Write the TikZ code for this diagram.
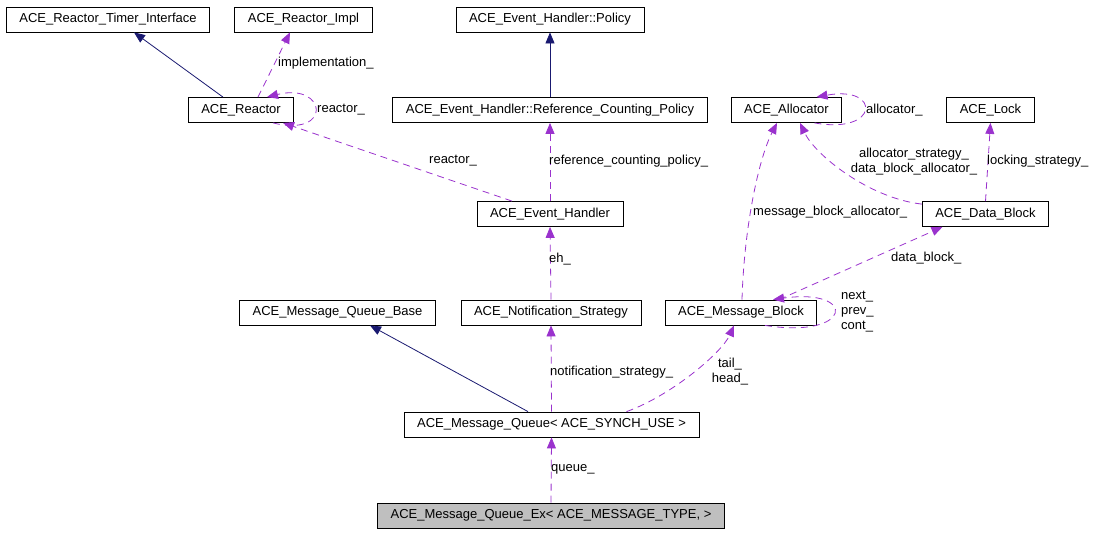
\documentclass[tikz,border=0pt]{standalone}
\usepackage{fontspec}
\setmainfont{Liberation Sans}
\usetikzlibrary{calc}
\usetikzlibrary{arrows.meta}
\definecolor{inhblue}{HTML}{191970}
\definecolor{usepurple}{HTML}{9A32CD}
\definecolor{boxgray}{HTML}{BFBFBF}

\begin{document}
\begin{tikzpicture}[x=1pt,y=-1pt,
	cls/.style={draw,line width=0.8pt,inner xsep=13pt,inner ysep=0pt,minimum height=25pt,font=\fontsize{13}{15}\selectfont},
	inh/.style={draw=inhblue,line width=0.8pt,-{Triangle[length=11pt,width=9pt]}},
	dep/.style={draw=usepurple,line width=0.8pt,dash pattern=on 7pt off 5pt,-{Triangle[length=11pt,width=9pt]}},
	lbl/.style={font=\fontsize{13}{15}\selectfont,inner sep=0pt}]
	\useasboundingbox (0,0) rectangle (1100,533);
	\node[cls] (timer) at (108,19.5) {ACE\_Reactor\_Timer\_Interface};
	\node[cls] (impl) at (303.5,19.5) {ACE\_Reactor\_Impl};
	\node[cls] (policy) at (550,19.5) {ACE\_Event\_Handler::Policy};
	\node[cls] (reactor) at (241,110) {ACE\_Reactor};
	\node[cls] (refpol) at (550,110) {ACE\_Event\_Handler::Reference\_Counting\_Policy};
	\node[cls] (alloc) at (786.5,110) {ACE\_Allocator};
	\node[cls] (lock) at (990.5,110) {ACE\_Lock};
	\node[cls] (evh) at (550,214) {ACE\_Event\_Handler};
	\node[cls] (datablk) at (985.5,214) {ACE\_Data\_Block};
	\node[cls] (mqbase) at (337.5,312.5) {ACE\_Message\_Queue\_Base};
	\node[cls] (notif) at (551,312.5) {ACE\_Notification\_Strategy};
	\node[cls] (msgblk) at (741,312.5) {ACE\_Message\_Block};
	\node[cls] (mq) at (551.5,424.5) {ACE\_Message\_Queue< ACE\_SYNCH\_USE >};
	\node[cls,fill=boxgray] (mqex) at (551,515.5) {ACE\_Message\_Queue\_Ex< ACE\_MESSAGE\_TYPE, >};
	\draw[inh] ($(reactor.north)+(-18,0)$) -- ($(timer.south)+(26,0)$);
	\draw[dep] ($(reactor.north)+(17,0)$) -- ($(impl.south)+(-13.5,0)$);
	\draw[dep] ($(reactor.south)+(32,0)$) .. controls +(60,15) and +(60,-15) .. ($(reactor.north)+(26,0)$);
	\draw[dep] ($(evh.north)+(-38,0)$) -- ($(reactor.south)+(42,0)$);
	\draw[dep] (evh.north) -- (refpol.south);
	\draw[inh] (refpol.north) -- (policy.south);
	\draw[dep] (notif.north) -- (evh.south);
	\draw[dep] (mq.north) -- (notif.south);
	\draw[inh] ($(mq.north)+(-23.5,0)$) -- ($(mqbase.south)+(32.5,0)$);
	\draw[dep] ($(mq.north)+(75,0)$) .. controls +(45,-16) and +(-12,27) .. ($(msgblk.south)+(-7,0)$);
	\draw[dep] (mqex.north) -- (mq.south);
	\draw[dep] ($(msgblk.north)+(1,0)$) .. controls +(2,-70) and +(-19,37) .. ($(alloc.south)+(-9.5,0)$);
	\draw[dep] ($(msgblk.north)+(38,0)$) -- ($(datablk.south)+(-43,0)$);
	\draw[dep] ($(msgblk.south)+(24,0)$) .. controls +(88,14) and +(85,-12) .. ($(msgblk.north)+(32,0)$);
	\draw[dep] ($(datablk.north west)+(0,3)$) .. controls +(-53,-6) and +(15,32) .. ($(alloc.south)+(13.5,0)$);
	\draw[dep] (datablk.north) -- (lock.south);
	\draw[dep] ($(alloc.south)+(28,0)$) .. controls +(65,12) and +(65,-12) .. ($(alloc.north)+(30,0)$);
	\node[lbl,anchor=west] (lImpl) at (278,63) {implementation\_};
	\node[lbl,anchor=west] (lSelfReactor) at (317,110) {reactor\_};
	\node[lbl,anchor=west] (lReactor) at (429,161) {reactor\_};
	\node[lbl,anchor=west] (lRefPol) at (549,161) {reference\_counting\_policy\_};
	\node[lbl,anchor=west] (lSelfAlloc) at (866,110) {allocator\_};
	\node[lbl,align=center] (lAllocStrat) at (914,162) {allocator\_strategy\_\\data\_block\_allocator\_};
	\node[lbl,anchor=west] (lLock) at (987,161) {locking\_strategy\_};
	\node[lbl,anchor=west] (lMbAlloc) at (753,212) {message\_block\_allocator\_};
	\node[lbl,anchor=west] (lDataBlk) at (891,258) {data\_block\_};
	\node[lbl,anchor=west,align=left] (lNext) at (841,312) {next\_\\prev\_\\cont\_};
	\node[lbl,anchor=west] (lEh) at (549,259) {eh\_};
	\node[lbl,anchor=west] (lNotif) at (550,372) {notification\_strategy\_};
	\node[lbl,align=center] (lTail) at (730,372) {tail\_\\head\_};
	\node[lbl,anchor=west] (lQueue) at (551,469) {queue\_};
\end{tikzpicture}
\end{document}
